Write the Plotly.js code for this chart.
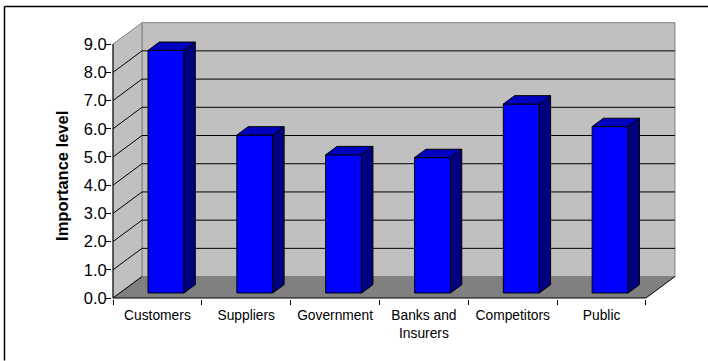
<!DOCTYPE html>
<html><head><meta charset="utf-8">
<script src="https://cdn.plot.ly/plotly-3.0.1.min.js"></script>
<style>html,body{margin:0;padding:0;background:#fff}</style>
</head><body><div id="chart" style="width:708px;height:361px"></div>
<script>
// ---- data ----
const categories = ['Customers', 'Suppliers', 'Government', 'Banks and<br>Insurers', 'Competitors', 'Public'];
const importance = [8.6, 5.6, 4.9, 4.8, 6.7, 5.9];
const yTickVals = [0, 1, 2, 3, 4, 5, 6, 7, 8, 9];
const boundaryTicks = [0, 1, 2, 3, 4, 5, 6];

// ---- pseudo-3D geometry (layout constants) ----
const W = 708, H = 361;
const PX = 88.83, PY = 28.29;          // px per category / per value unit
const X0PX = 113, Y0PX = 298.3;        // pixel of front origin
const DX = 29 / PX, DY = 21.5 / PY;    // full depth offset in data units
const F0 = 0.233, FD = 0.39;           // bar front depth fraction, bar depth fraction
const BW = 0.405, BL = 0.394;          // bar width, front face left offset
const mL = 112, mR = W - 677, mT = 20.5, mB = H - 299.3;
const xr = [(mL - X0PX) / PX, (W - mR - X0PX) / PX];
const yr = [(Y0PX - (H - mB)) / PY, (Y0PX - mT) / PY];
const nCat = categories.length;
const yMax = yTickVals[yTickVals.length - 1];
const pw = W - mL - mR, ph = H - mT - mB;
const pxX = p => (p - mL) / pw;
const pxY = p => ((H - mB) - p) / ph;

const base = F0 * DY;
const ddx = FD * DX, ddy = FD * DY;

// front faces
const front = {
  type: 'bar', x: importance.map((v, i) => i + BL + BW / 2), y: importance,
  base: importance.map(() => base), width: BW,
  marker: {color: '#0000FF', line: {color: '#000', width: 1}},
  hoverinfo: 'skip', showlegend: false
};
// side and top faces
const sx = [], sy = [], tx = [], ty = [];
importance.forEach((v, i) => {
  const l = i + BL, r = l + BW, top = base + v;
  sx.push(r, r + ddx, r + ddx, r, r, null);
  sy.push(base, base + ddy, top + ddy, top, base, null);
  tx.push(l, r, r + ddx, l + ddx, l, null);
  ty.push(top, top, top + ddy, top + ddy, top, null);
});
const side = {type: 'scatter', mode: 'lines', x: sx, y: sy, fill: 'toself', fillcolor: '#000080',
  line: {color: '#000', width: 1}, hoverinfo: 'skip', showlegend: false};
const topF = {type: 'scatter', mode: 'lines', x: tx, y: ty, fill: 'toself', fillcolor: '#0000C0',
  line: {color: '#000', width: 1}, hoverinfo: 'skip', showlegend: false};

// chart border (top and left edges visible), walls, floor, grid
const shapes = [];
shapes.push({type: 'line', xref: 'paper', yref: 'paper', x0: pxX(4.5), x1: pxX(W), y0: pxY(6), y1: pxY(6),
  line: {color: '#000', width: 1.5}, layer: 'below'});
shapes.push({type: 'line', xref: 'paper', yref: 'paper', x0: pxX(4.5), x1: pxX(4.5), y0: pxY(6), y1: pxY(H),
  line: {color: '#000', width: 1.5}, layer: 'below'});
shapes.push({type: 'rect', xref: 'x', yref: 'y', x0: DX, x1: nCat + DX, y0: DY, y1: yMax + DY,
  fillcolor: '#C0C0C0', line: {color: '#808080', width: 1}, layer: 'below'});
shapes.push({type: 'path', xref: 'x', yref: 'y',
  path: `M0,0 L0,${yMax} L${DX},${yMax + DY} L${DX},${DY} Z`,
  fillcolor: '#C0C0C0', line: {color: '#808080', width: 1}, layer: 'below'});
shapes.push({type: 'path', xref: 'x', yref: 'y',
  path: `M0,0 L${nCat},0 L${nCat + DX},${DY} L${DX},${DY} Z`,
  fillcolor: '#808080', line: {width: 0}, layer: 'below'});
yTickVals.forEach(v => {
  if (v > 0 && v < yMax) {
    shapes.push({type: 'line', xref: 'x', yref: 'y', x0: DX, x1: nCat + DX, y0: v + DY, y1: v + DY,
      line: {color: '#000', width: 1}, layer: 'below'});
  }
  if (v < yMax) {
    shapes.push({type: 'line', xref: 'x', yref: 'y', x0: 0, x1: DX, y0: v, y1: v + DY,
      line: {color: '#000', width: 1}, layer: 'below'});
  }
});
shapes.push({type: 'line', xref: 'x', yref: 'y', x0: nCat, x1: nCat + DX, y0: 0, y1: DY,
  line: {color: '#000', width: 1}, layer: 'below'});
shapes.push({type: 'line', xref: 'x', yref: 'y', x0: 0, x1: nCat, y0: 0, y1: 0,
  line: {color: '#000', width: 1}, layer: 'below'});
shapes.push({type: 'line', xref: 'x', yref: 'y', x0: 0, x1: 0, y0: 0, y1: yMax,
  line: {color: '#000', width: 1}, layer: 'below'});

const font = 'Arial, "Liberation Sans", sans-serif';
const layout = {
  width: W, height: H,
  margin: {l: mL, r: mR, t: mT, b: mB, pad: 0},
  paper_bgcolor: '#fff', plot_bgcolor: 'rgba(0,0,0,0)',
  showlegend: false,
  font: {family: font, color: '#000'},
  xaxis: {range: xr, showgrid: false, zeroline: false, showline: false, fixedrange: true,
    tickmode: 'array', tickvals: categories.map((c, i) => i + 0.5), ticktext: categories,
    ticks: '', ticklabelstandoff: 6, tickfont: {size: 13.8, family: font, color: '#000'},
    minor: {tickmode: 'array', tickvals: boundaryTicks, ticks: 'outside', ticklen: 5,
      tickcolor: '#000', tickwidth: 1, showgrid: false}},
  yaxis: {range: yr, showgrid: false, zeroline: false, showline: false, fixedrange: true,
    tickmode: 'array', tickvals: yTickVals, tickformat: '.1f',
    ticks: 'outside', ticklen: 5, tickcolor: '#000', tickwidth: 1, ticklabelstandoff: -4,
    tickfont: {size: 16.5, family: font, color: '#000'}},
  shapes: shapes,
  annotations: [{text: '<b>Importance level</b>', textangle: -90, showarrow: false,
    xref: 'paper', yref: 'paper', x: pxX(62.5), y: pxY(176.4),
    xanchor: 'center', yanchor: 'middle', font: {size: 16.5, family: font, color: '#000'}}]
};
Plotly.newPlot('chart', [front, side, topF], layout, {displayModeBar: false, staticPlot: true});
</script></body></html>
